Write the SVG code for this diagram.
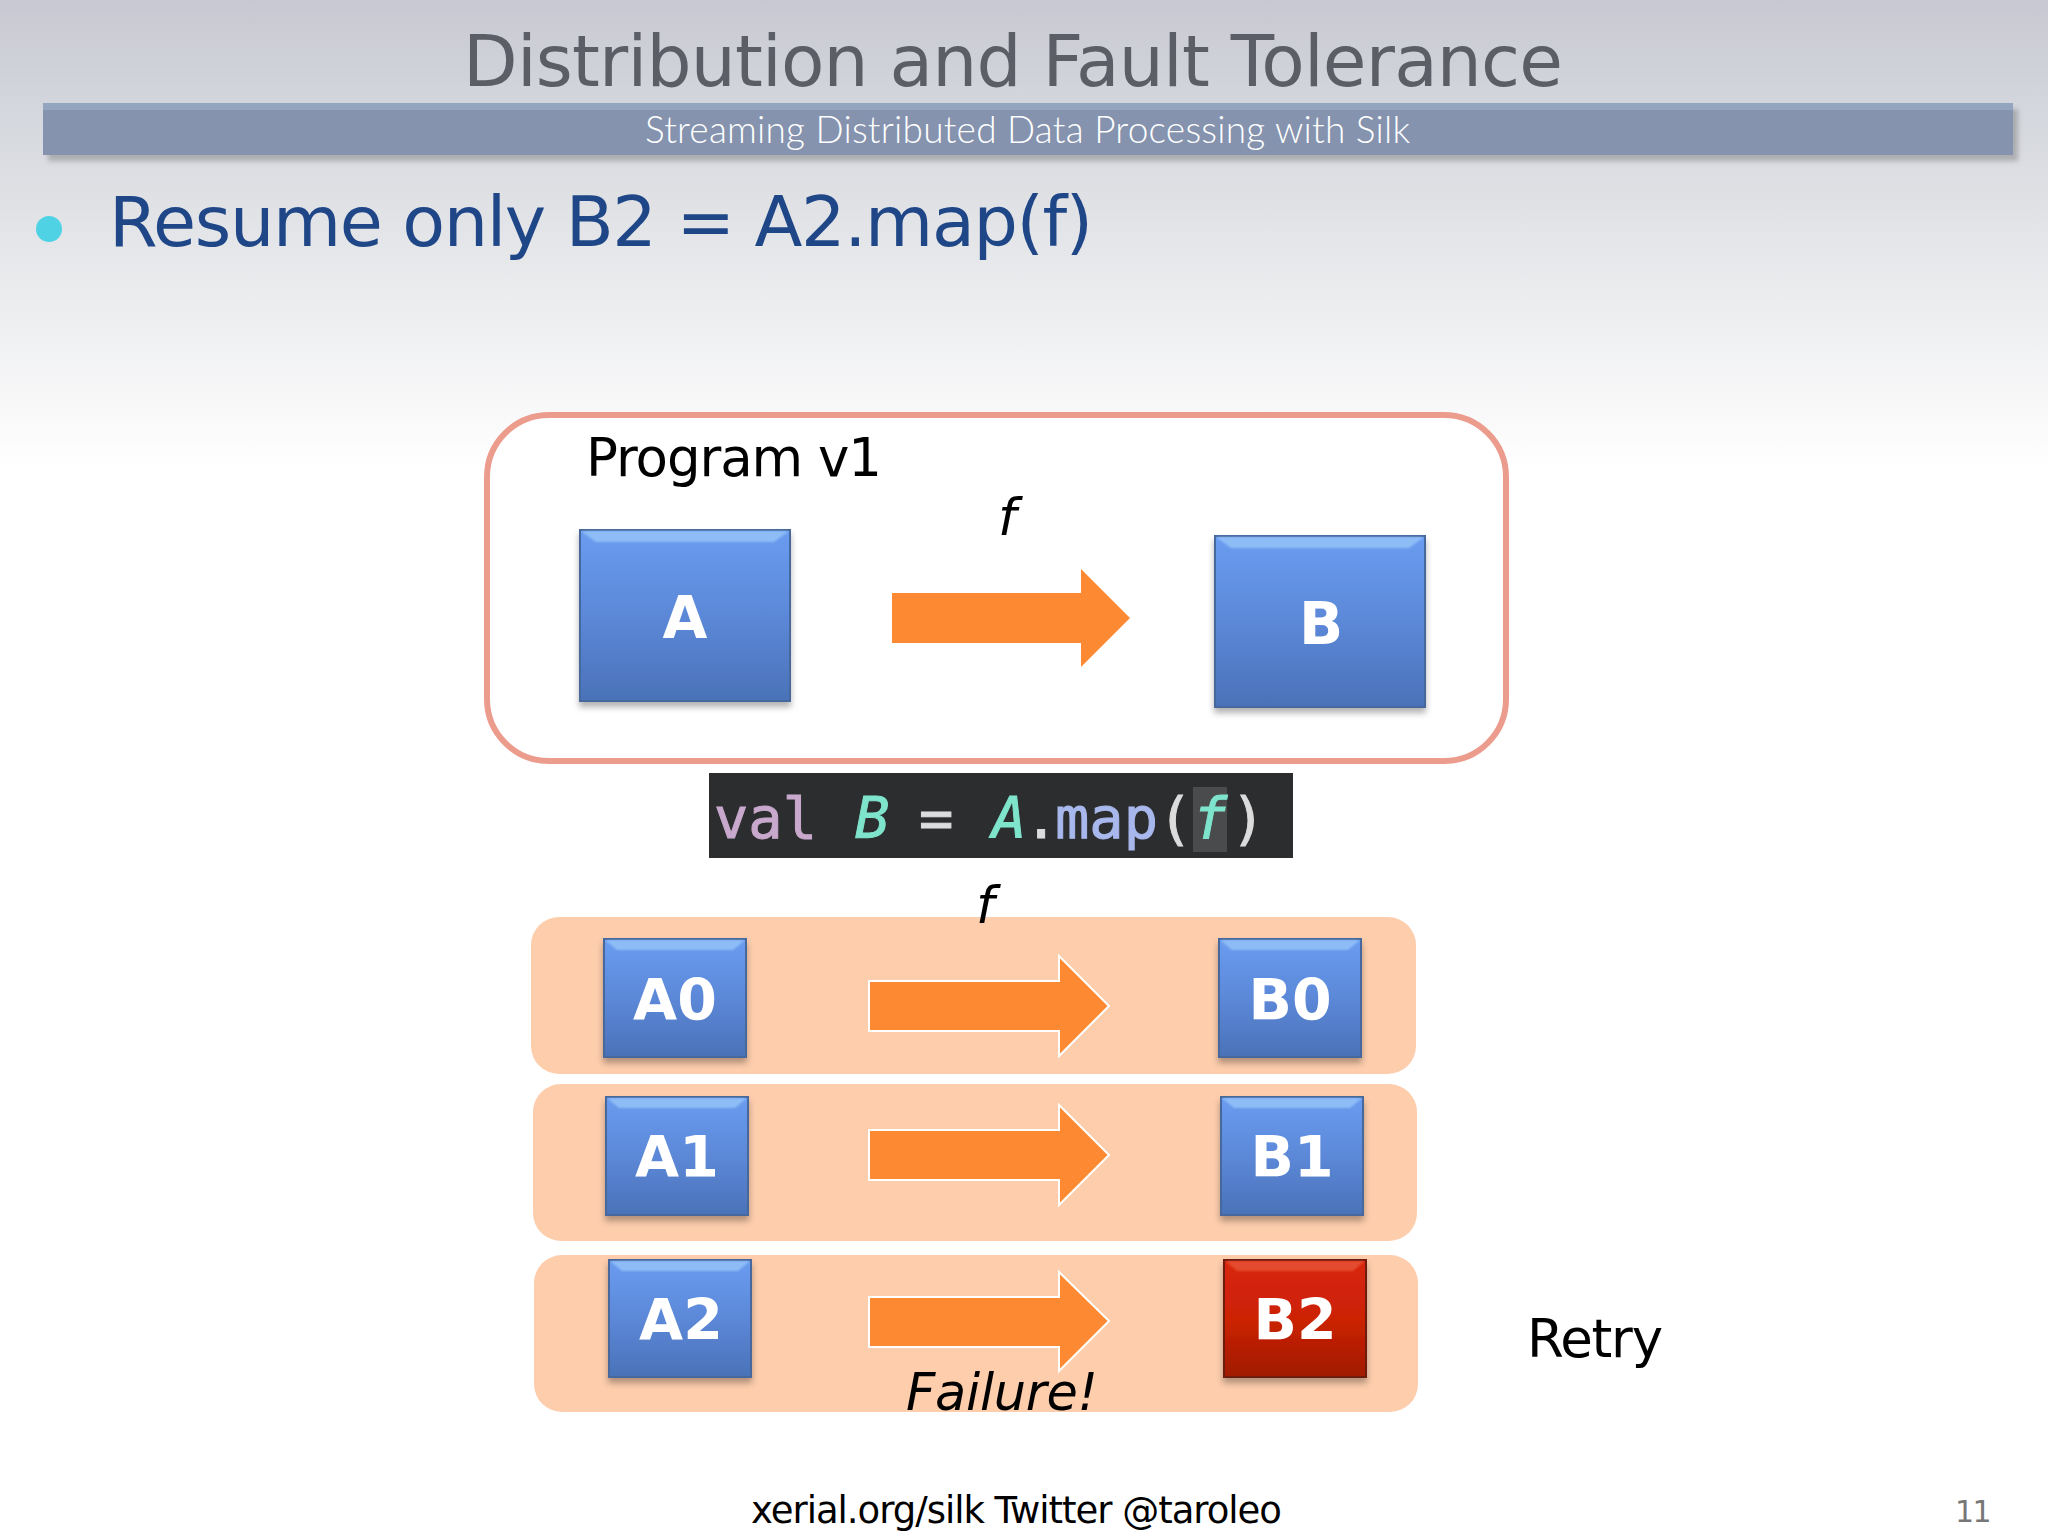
<svg xmlns="http://www.w3.org/2000/svg" width="2048" height="1536" viewBox="0 0 2048 1536">
<style>
text{font-family:"DejaVu Sans","Liberation Sans",sans-serif}
.lbl{font-weight:700;fill:#fff;text-anchor:middle}
.blk{fill:#000}
.it{font-style:italic;fill:#000}
.row{fill:#fdcdac}
.ar{fill:#fd8a33}
.arw{fill:#fd8a33;stroke:#fff;stroke-width:2}
.blue{fill:url(#blue);stroke:#46679c;stroke-width:2}
.red{fill:url(#red);stroke:#6e1a10;stroke-width:2}
.bvb{fill:#a8d4fc;opacity:.6;filter:url(#soft)}
.bvr{fill:#f06a50;opacity:.55;filter:url(#soft)}
.sh{filter:url(#shadow)}
.kw{fill:#c8a8cc;stroke:#c8a8cc;stroke-width:1}
.ty{fill:#7fe4cc;stroke:#7fe4cc;stroke-width:1;font-style:italic}
.op{fill:#dcdcdc;stroke:#dcdcdc;stroke-width:1}
.fn{fill:#a8b8ec;stroke:#a8b8ec;stroke-width:1}
</style>
<defs>
<linearGradient id="bg" x1="0" y1="0" x2="0" y2="1"><stop offset="0" stop-color="#c8c8d2"/><stop offset=".22" stop-color="#d3d6dc"/><stop offset=".5" stop-color="#e4e5e8"/><stop offset="1" stop-color="#ffffff"/></linearGradient>
<linearGradient id="blue" x1="0" y1="0" x2="0" y2="1"><stop offset="0" stop-color="#6a9cf0"/><stop offset=".5" stop-color="#5c88d8"/><stop offset="1" stop-color="#4a72b8"/></linearGradient>
<linearGradient id="red" x1="0" y1="0" x2="0" y2="1"><stop offset="0" stop-color="#d8260a"/><stop offset=".5" stop-color="#cc2206"/><stop offset="1" stop-color="#a01a04"/></linearGradient>
<filter id="shadow" x="-10%" y="-10%" width="120%" height="125%"><feDropShadow dx="0" dy="5" stdDeviation="3" flood-color="#000" flood-opacity=".3"/></filter>
<filter id="barsh" x="-2%" y="-20%" width="104%" height="150%"><feDropShadow dx="5" dy="6" stdDeviation="2.5" flood-color="#555" flood-opacity=".35"/></filter>
<filter id="soft"><feGaussianBlur stdDeviation="1.2"/></filter>
</defs>
<rect id="background" width="2048" height="470" fill="url(#bg)"/>
<rect y="470" width="2048" height="1066" fill="#fff"/>
<g id="header">
<text x="463" y="86" font-size="71" fill="#5b5e66" textLength="1100" lengthAdjust="spacing">Distribution and Fault Tolerance</text>
<rect x="43" y="103" width="1970" height="52" fill="#8593ae" filter="url(#barsh)"/>
<rect x="43" y="103" width="1970" height="7" fill="#94a5bf"/>
<text x="645" y="143" font-size="37" fill="#fff" style="font-family:Lato,'Noto Sans',sans-serif;font-weight:300" textLength="765" lengthAdjust="spacing">Streaming Distributed Data Processing with Silk</text>
</g>
<g id="bullet">
<circle cx="49" cy="229" r="13" fill="#4fd3e4"/>
<text x="109" y="246" font-size="70" fill="#1f4788" textLength="984" lengthAdjust="spacing">Resume only B2 = A2.map(f)</text>
</g>
<g id="program">
<rect x="487" y="415" width="1019" height="346" rx="62" fill="#fff" stroke="#ec9c8c" stroke-width="6"/>
<text class="blk" x="586" y="476" font-size="53" textLength="296" lengthAdjust="spacing">Program v1</text>
</g>
<g id="row0"><rect class="row" x="531" y="917" width="885" height="157" rx="28"/></g>
<g id="row1"><rect class="row" x="533" y="1084" width="884" height="157" rx="28"/></g>
<g id="row2"><rect class="row" x="534" y="1255" width="884" height="157" rx="28"/></g>
<g id="connectors">
<path class="ar" d="M892 593H1081V569L1130 618L1081 667V643H892Z"/>
<path class="arw" d="M869 981H1059V956L1109 1006L1059 1056V1031H869Z"/>
<path class="arw" d="M869 1130H1059V1105L1109 1155L1059 1205V1180H869Z"/>
<path class="arw" d="M869 1297H1059V1272L1109 1321L1059 1371V1347H869Z"/>
</g>
<g id="nodeA" class="sh"><rect class="blue" x="580" y="530" width="210" height="171"/><path class="bvb" d="M581 531H789L774 542H596Z"/><text class="lbl" x="685" y="638" font-size="58">A</text></g>
<g id="nodeB" class="sh"><rect class="blue" x="1215" y="536" width="210" height="171"/><path class="bvb" d="M1216 537H1424L1409 548H1231Z"/><text class="lbl" x="1321" y="644" font-size="58">B</text></g>
<g id="nodeA0" class="sh"><rect class="blue" x="604" y="939" width="142" height="118"/><path class="bvb" d="M605 940H745L733 950H617Z"/><text class="lbl" x="675" y="1020" font-size="57">A0</text></g>
<g id="nodeB0" class="sh"><rect class="blue" x="1219" y="939" width="142" height="118"/><path class="bvb" d="M1220 940H1360L1348 950H1232Z"/><text class="lbl" x="1290" y="1020" font-size="57">B0</text></g>
<g id="nodeA1" class="sh"><rect class="blue" x="606" y="1097" width="142" height="118"/><path class="bvb" d="M607 1098H747L735 1108H619Z"/><text class="lbl" x="677" y="1177" font-size="57">A1</text></g>
<g id="nodeB1" class="sh"><rect class="blue" x="1221" y="1097" width="142" height="118"/><path class="bvb" d="M1222 1098H1362L1350 1108H1234Z"/><text class="lbl" x="1292" y="1177" font-size="57">B1</text></g>
<g id="nodeA2" class="sh"><rect class="blue" x="609" y="1260" width="142" height="117"/><path class="bvb" d="M610 1261H750L738 1271H622Z"/><text class="lbl" x="681" y="1340" font-size="57">A2</text></g>
<g id="nodeB2" class="sh"><rect class="red" x="1224" y="1260" width="142" height="117"/><path class="bvr" d="M1225 1261H1365L1353 1271H1237Z"/><text class="lbl" x="1295" y="1340" font-size="57">B2</text></g>
<g id="code">
<rect x="709" y="773" width="584" height="85" fill="#2b2d2e"/>
<rect x="1193" y="787" width="34" height="65" fill="#4a4b4d"/>
<text y="838" font-size="57" style="font-family:'DejaVu Sans Mono',monospace"><tspan class="kw" x="714">val</tspan><tspan class="ty" x="855">B</tspan><tspan class="op" x="919">=</tspan><tspan class="ty" x="992">A</tspan><tspan class="op" x="1024">.</tspan><tspan class="fn" x="1055">map</tspan><tspan class="op" x="1158">(</tspan><tspan class="ty" x="1193">f</tspan><tspan class="op" x="1231">)</tspan></text>
</g>
<g id="labels">
<text class="it" x="998" y="535" font-size="52">f</text>
<text class="it" x="976" y="923" font-size="52">f</text>
<text class="it" x="906" y="1410" font-size="51" textLength="192" lengthAdjust="spacing">Failure!</text>
<text class="blk" x="1527" y="1357" font-size="53" textLength="136" lengthAdjust="spacing">Retry</text>
<text class="blk" x="751" y="1523" font-size="37" textLength="531" lengthAdjust="spacing">xerial.org/silk Twitter @taroleo</text>
<text x="1955" y="1522" font-size="30" fill="#777" letter-spacing="-1.5">11</text>
</g>
</svg>
